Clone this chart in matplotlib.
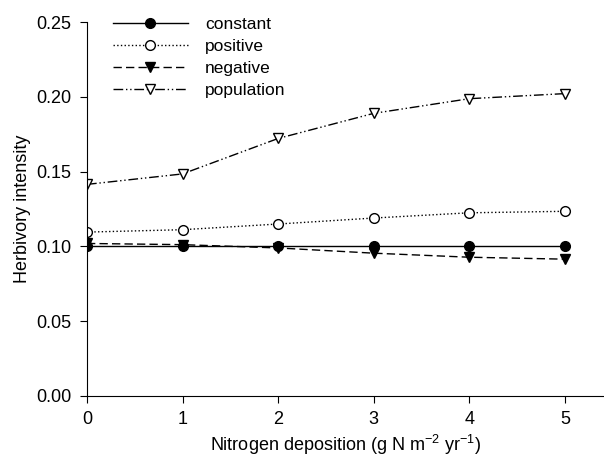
import matplotlib
matplotlib.use("Agg")
import matplotlib.pyplot as plt

plt.rcParams['font.family'] = ['Liberation Sans', 'DejaVu Sans']
plt.rcParams['mathtext.fontset'] = 'custom'
plt.rcParams['mathtext.rm'] = 'Liberation Sans'

nitrogen = [0, 1, 2, 3, 4, 5]
constant = [0.1005, 0.1005, 0.1005, 0.1005, 0.1005, 0.1005]
positive = [0.1096, 0.1112, 0.1150, 0.1190, 0.1225, 0.1235]
negative = [0.1020, 0.1012, 0.0990, 0.0955, 0.0928, 0.0915]
population = [0.1415, 0.1485, 0.1722, 0.1890, 0.1988, 0.2022]

fig = plt.figure(figsize=(6.04, 4.61), dpi=100)
ax = fig.add_axes([0.144, 0.141, 0.856, 0.811])

ax.plot(nitrogen, constant, '-', color='black', lw=1, marker='o', ms=7,
        mfc='black', mec='black', label='constant')
ax.plot(nitrogen, positive, ':', color='black', lw=1, marker='o', ms=7,
        mfc='white', mec='black', label='positive')
ax.plot(nitrogen, negative, color='black', lw=1, ls=(0, (6, 3)), marker='v', ms=7,
        mfc='black', mec='black', label='negative')
ax.plot(nitrogen, population, color='black', lw=1, ls=(0, (7, 2, 1, 2, 1, 2)),
        marker='v', ms=7, mfc='white', mec='black', label='population')

ax.set_xlim(0, 5.41)
ax.set_ylim(0, 0.25)
ax.set_xticks(nitrogen)
ax.set_yticks([0, 0.05, 0.10, 0.15, 0.20, 0.25])
ax.set_yticklabels(['0.00', '0.05', '0.10', '0.15', '0.20', '0.25'])
ax.spines['top'].set_visible(False)
ax.spines['right'].set_visible(False)
ax.tick_params(direction='out', length=5, labelsize=13, pad=6)

ax.set_xlabel('Nitrogen deposition (g N m$^{-2}$ yr$^{-1}$)', fontsize=13, labelpad=3)
ax.set_ylabel('Herbivory intensity', fontsize=13, labelpad=4)

ax.legend(loc='upper left', bbox_to_anchor=(0.02, 1.055), frameon=False,
          fontsize=12.5, handlelength=4.3, handletextpad=1.0, labelspacing=0.38)

plt.savefig('out.png', dpi=100)
